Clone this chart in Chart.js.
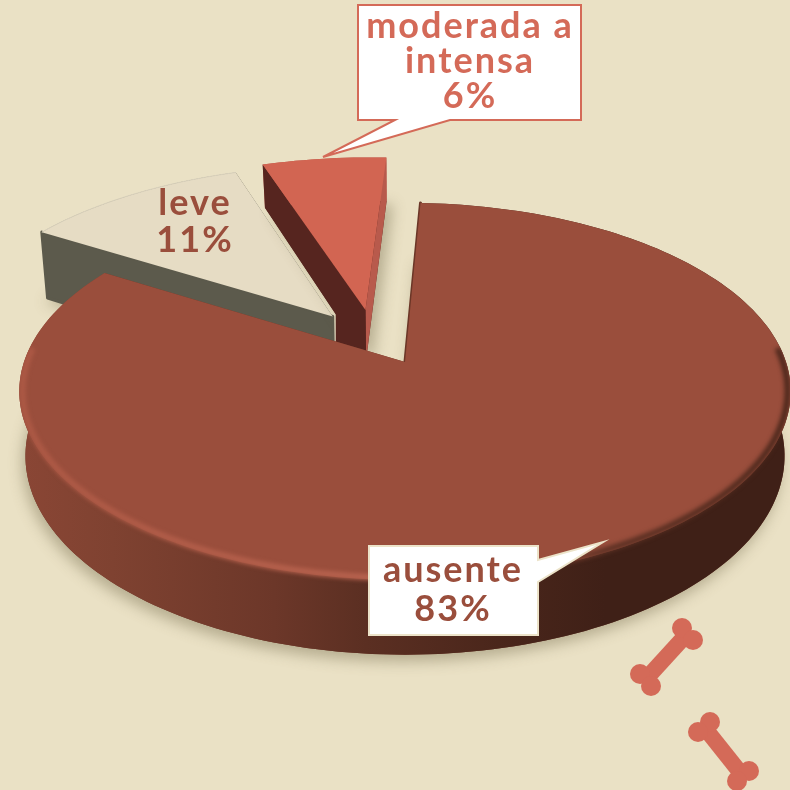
<!DOCTYPE html>
<html>
<head>
<meta charset="utf-8">
<title>Pie</title>
<script src="https://cdn.jsdelivr.net/npm/chart.js@4"></script>
<style>
  html, body { margin: 0; padding: 0; background: #eae1c5; overflow: hidden; }
  canvas { display: block; }
</style>
</head>
<body>
<canvas id="pie" width="790" height="790"></canvas>
<script>
const categories = ["ausente", "leve", "moderada a intensa"];
const values = [83, 11, 6];
const labelLines = [["ausente"], ["leve"], ["moderada a", "intensa"]];

const sliceColors = ["#9a4e3c", "#e6dcc4", "#d26552"];
const startWallColors = ["#6b3627", "#5c5a4c", "#56251f"];
const endWallColors = ["#6b3627", "#5c5a4c", "#b85a4c"];
const textColors = ["#9a4e3c", "#9a4e3c", "#d46a58"];
const sliceOffsets = [0, 110, 110];
// small sideways correction of the exploded slices, in radius units
const sliceNudge = [[0, 0], [0.005, 0.005], [-0.063, -0.025]];
const sliceRadius = [1, 1.025, 1.05];
const sliceDepth = [63, 74, 52];
const drawOrder = [1, 2, 0];

// perspective of the disc on the page
const view = { ax: 405, ay: 362, rx: 381, ry: 184, p: 0.156, shrink: 0.016 };

function project(u, v, depth) {
  const w = 1 + view.p * v;
  const k = depth ? 1 - view.shrink : 1;
  return {
    x: view.ax + view.rx * u / w * k,
    y: view.ay - view.ry * v / w + depth / w
  };
}

function sliceGeometry(arc, index) {
  const props = arc.getProps(["startAngle", "endAngle", "outerRadius"], true);
  const mid = (props.startAngle + props.endAngle) / 2;
  const shift = sliceOffsets[index] / props.outerRadius;
  return {
    start: props.startAngle,
    end: props.endAngle,
    radius: sliceRadius[index],
    cu: Math.cos(mid) * shift + sliceNudge[index][0],
    cv: -Math.sin(mid) * shift + sliceNudge[index][1]
  };
}

function rimPoints(g, depth, scale) {
  const pts = [];
  const r = g.radius * (scale || 1);
  const steps = Math.max(12, Math.round((g.end - g.start) * 40));
  for (let i = 0; i <= steps; i++) {
    const a = g.start + (g.end - g.start) * i / steps;
    pts.push(project(g.cu + Math.cos(a) * r, g.cv - Math.sin(a) * r, depth));
  }
  return pts;
}

function tracePath(ctx, pts) {
  ctx.beginPath();
  pts.forEach((p, i) => (i ? ctx.lineTo(p.x, p.y) : ctx.moveTo(p.x, p.y)));
  ctx.closePath();
}

function bigWallGradient(ctx) {
  const grad = ctx.createLinearGradient(20, 0, 790, 0);
  grad.addColorStop(0, "#8a4635");
  grad.addColorStop(0.12, "#7f4231");
  grad.addColorStop(0.33, "#6c3729");
  grad.addColorStop(0.45, "#5b2f22");
  grad.addColorStop(0.62, "#4a261b");
  grad.addColorStop(0.76, "#3f2017");
  grad.addColorStop(1, "#3f2017");
  return grad;
}

function drawSlice(ctx, arc, index) {
  const g = sliceGeometry(arc, index);
  const depth = sliceDepth[index];
  const top = rimPoints(g, 0);
  const bottom = rimPoints(g, depth);
  const apexTop = project(g.cu, g.cv, 0);
  const apexBottom = project(g.cu, g.cv, depth);

  // soft shadow on the ground
  ctx.save();
  ctx.shadowColor = "rgba(120,110,80,0.45)";
  ctx.shadowBlur = 14;
  ctx.shadowOffsetY = index === 0 ? 7 : 4;
  ctx.shadowOffsetX = index === 2 ? 6 : -3;
  ctx.fillStyle = startWallColors[index];
  tracePath(ctx, bottom.concat([apexBottom]));
  ctx.fill();
  ctx.restore();

  // outer wall
  ctx.fillStyle = index === 0 ? bigWallGradient(ctx) : endWallColors[index];
  tracePath(ctx, top.concat(bottom.slice().reverse()));
  ctx.fill();

  // the two cut faces
  ctx.lineJoin = "round";
  ctx.lineWidth = 3;
  ctx.fillStyle = endWallColors[index];
  ctx.strokeStyle = endWallColors[index];
  tracePath(ctx, [apexTop, top[top.length - 1], bottom[bottom.length - 1], apexBottom]);
  ctx.fill();
  ctx.fillStyle = startWallColors[index];
  ctx.strokeStyle = startWallColors[index];
  const cut = [apexTop, top[0], bottom[0]];
  if (index === 2) {
    // the dark face runs on down to the big slice near the centre
    const t = 0.7;
    const knee = {
      x: bottom[0].x + (apexBottom.x - bottom[0].x) * t,
      y: bottom[0].y + (apexBottom.y - bottom[0].y) * t
    };
    cut.push(knee, { x: knee.x, y: knee.y + 40 });
  }
  cut.push(apexBottom);
  tracePath(ctx, cut);
  ctx.fill();
  if (index !== 2) ctx.stroke();

  // top face
  ctx.fillStyle = sliceColors[index];
  tracePath(ctx, [apexTop].concat(top));
  ctx.fill();

  if (index === 0) {
    // bevel along the near part of the rim only, kept inside the silhouette
    const rim = ctx.createLinearGradient(20, 0, 790, 0);
    rim.addColorStop(0, "#ad5945");
    rim.addColorStop(0.5, "#b96450");
    rim.addColorStop(0.66, "#8e4836");
    rim.addColorStop(0.76, "#5e3124");
    rim.addColorStop(1, "#4d281c");
    const near = rimPoints(g, 0, 0.992).filter((p) => p.y > 345);
    ctx.save();
    ctx.beginPath();
    [[apexTop].concat(top), top.concat(bottom.slice().reverse())].forEach((shape) => {
      shape.forEach((p, i) => (i ? ctx.lineTo(p.x, p.y) : ctx.moveTo(p.x, p.y)));
      ctx.closePath();
    });
    ctx.clip("nonzero");
    ctx.filter = "blur(2px)";
    ctx.strokeStyle = rim;
    ctx.lineWidth = 6;
    ctx.beginPath();
    near.forEach((p, i) => (i ? ctx.lineTo(p.x, p.y) : ctx.moveTo(p.x, p.y)));
    ctx.stroke();
    ctx.restore();
  }
  if (index === 1) {
    ctx.strokeStyle = "#d9d1bc";
    ctx.lineWidth = 1;
    ctx.beginPath();
    top.forEach((p, i) => (i ? ctx.lineTo(p.x, p.y) : ctx.moveTo(p.x, p.y)));
    ctx.stroke();
  }
}

function drawCallout(ctx, pts, border) {
  ctx.fillStyle = "#ffffff";
  ctx.strokeStyle = border;
  ctx.lineWidth = 2;
  ctx.lineJoin = "miter";
  tracePath(ctx, pts);
  ctx.fill();
  ctx.stroke();
}

function drawLabel(ctx, index, cx, firstBaseline, lineGap) {
  const lines = labelLines[index].concat([values[index] + "%"]);
  ctx.fillStyle = textColors[index];
  ctx.font = "700 36px Lato";
  ctx.letterSpacing = "2px";
  ctx.textAlign = "center";
  ctx.textBaseline = "alphabetic";
  lines.forEach((line, i) => ctx.fillText(line, cx, firstBaseline + i * lineGap));
  ctx.letterSpacing = "0px";
}

function drawBone(ctx, shaft, knobs) {
  ctx.strokeStyle = "#d46a58";
  ctx.fillStyle = "#d46a58";
  ctx.lineWidth = 16;
  ctx.beginPath();
  ctx.moveTo(shaft[0], shaft[1]);
  ctx.lineTo(shaft[2], shaft[3]);
  ctx.stroke();
  knobs.forEach((k) => {
    ctx.beginPath();
    ctx.arc(k[0], k[1], 10, 0, Math.PI * 2);
    ctx.fill();
  });
}

const pie3d = {
  id: "pie3d",
  beforeDatasetDraw(chart, args) {
    const ctx = chart.ctx;
    const arcs = chart.getDatasetMeta(args.index).data;
    ctx.save();
    drawOrder.forEach((i) => drawSlice(ctx, arcs[i], i));
    ctx.restore();
    return false;
  },
  afterDraw(chart) {
    const ctx = chart.ctx;
    ctx.save();
    drawCallout(ctx, [[358, 5], [581, 5], [581, 120], [450, 120], [323, 157], [395, 120], [358, 120]]
      .map((p) => ({ x: p[0], y: p[1] })), "#d46a58");
    drawCallout(ctx, [[369, 546], [538, 546], [538, 560], [603, 542], [538, 582], [538, 635], [369, 635]]
      .map((p) => ({ x: p[0], y: p[1] })), "#ece3c9");
    drawLabel(ctx, 2, 470, 38, 35);
    drawLabel(ctx, 1, 195, 215, 37);
    drawLabel(ctx, 0, 453, 582, 39);
    drawBone(ctx, [687, 634, 645, 680], [[682, 628], [693, 640], [640, 674], [651, 686]]);
    drawBone(ctx, [704, 727, 743, 776], [[710, 722], [698, 732], [749, 771], [737, 781]]);
    ctx.restore();
  }
};

new Chart(document.getElementById("pie").getContext("2d"), {
  type: "pie",
  data: {
    labels: categories,
    datasets: [{
      data: values,
      backgroundColor: sliceColors,
      offset: sliceOffsets,
      borderWidth: 0
    }]
  },
  options: {
    responsive: false,
    animation: false,
    rotation: 2.7,
    plugins: {
      legend: { display: false },
      tooltip: { enabled: false }
    }
  },
  plugins: [pie3d]
});
</script>
</body>
</html>
